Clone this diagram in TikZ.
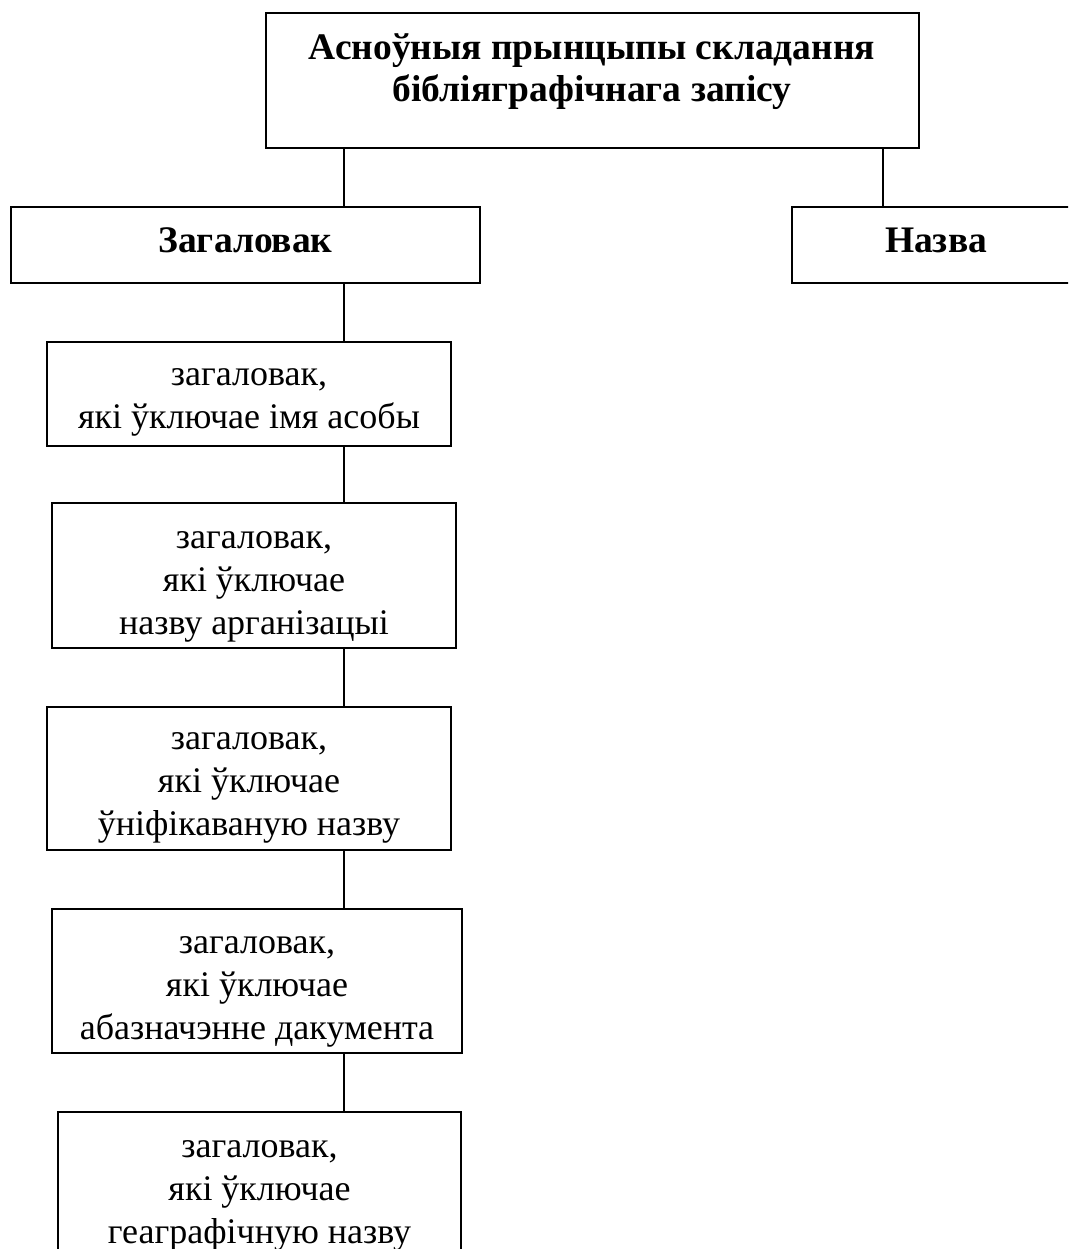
\documentclass[tikz,border=0pt]{standalone}
\usepackage{fontspec}
\setmainfont{Liberation Serif}
\tikzset{
  box/.style={draw=black, line width=1.5pt, inner sep=0pt, outer sep=0pt, anchor=north west},
  lbl/.style={inner sep=0pt, outer sep=0pt, anchor=base, font=\fontsize{36}{43}\selectfont},
  blbl/.style={lbl, font=\fontsize{37.5}{42}\selectfont\bfseries},
  conn/.style={draw=black, line width=1.5pt}
}
\newcommand{\ml}[1]{\begin{tabular}[t]{@{}c@{}}#1\end{tabular}}
\begin{document}
\begin{tikzpicture}[x=1pt,y=1pt]
\useasboundingbox (0,0) rectangle (1068,-1249);
\clip (0,0) rectangle (1068,-1249);
% boxes
\node[box, minimum width=653pt, minimum height=135pt] (top) at (266,-13) {};
\node[box, minimum width=469pt, minimum height=76pt] (zag) at (11,-207) {};
\node[box, minimum width=288pt, minimum height=76pt] (naz) at (792,-207) {};
\node[box, minimum width=404pt, minimum height=104pt] (b1) at (47,-342) {};
\node[box, minimum width=404pt, minimum height=145pt] (b2) at (52,-503) {};
\node[box, minimum width=404pt, minimum height=143pt] (b3) at (47,-707) {};
\node[box, minimum width=410pt, minimum height=144pt] (b4) at (52,-909) {};
\node[box, minimum width=403pt, minimum height=180pt] (b5) at (58,-1112) {};
% texts
\node[blbl] (ttop) at (592,-60) {\ml{Асноўныя прынцыпы складання\\бібліяграфічнага запісу}};
\node[blbl] (tzag) at (245.5,-253) {Загаловак};
\node[blbl] (tnaz) at (936,-252) {Назва};
\node[lbl] (t1) at (249,-385) {\ml{загаловак,\\які ўключае імя асобы}};
\node[lbl] (t2) at (254,-548) {\ml{загаловак,\\які ўключае\\назву арганізацыі}};
\node[lbl] (t3) at (249,-749) {\ml{загаловак,\\які ўключае\\ўніфікаваную назву}};
\node[lbl] (t4) at (257,-953) {\ml{загаловак,\\які ўключае\\абазначэнне дакумента}};
\node[lbl] (t5) at (259.5,-1157) {\ml{загаловак,\\які ўключае\\геаграфічную назву}};
% connector axes
\coordinate (cl) at (344,0);
\coordinate (cr) at (883,0);
\draw[conn] (top.south -| cl) -- (zag.north -| cl);
\draw[conn] (top.south -| cr) -- (naz.north -| cr);
\draw[conn] (zag.south -| cl) -- (b1.north -| cl);
\draw[conn] (b1.south -| cl) -- (b2.north -| cl);
\draw[conn] (b2.south -| cl) -- (b3.north -| cl);
\draw[conn] (b3.south -| cl) -- (b4.north -| cl);
\draw[conn] (b4.south -| cl) -- (b5.north -| cl);
\end{tikzpicture}
\end{document}
